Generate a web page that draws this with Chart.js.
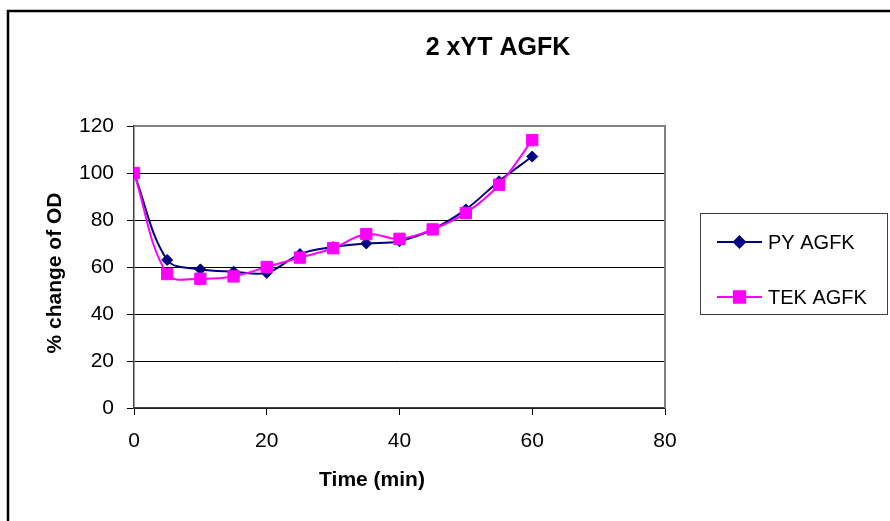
<!DOCTYPE html>
<html>
<head>
<meta charset="utf-8">
<script src="https://cdn.jsdelivr.net/npm/chart.js@4/dist/chart.umd.min.js"></script>
<style>
  html, body { margin: 0; padding: 0; background: #ffffff; }
  #wrap { width: 890px; height: 521px; }
</style>
</head>
<body>
<div id="wrap"><canvas id="c" width="890" height="521"></canvas></div>
<script>
const chartTitle = "2 xYT AGFK";
const xTitle = "Time (min)";
const yTitle = "% change of OD";
const timeMin = [0, 5, 10, 15, 20, 25, 30, 35, 40, 45, 50, 55, 60];
const pyLabel = "PY AGFK";
const pyValues = [100, 63, 59, 58, 57.5, 65.5, 68.5, 70, 71, 76, 84.5, 96.5, 107];
const tekLabel = "TEK AGFK";
const tekValues = [100, 57, 55, 56, 60, 64, 68, 74, 72, 76, 83, 95, 114];
const xTicks = [0, 20, 40, 60, 80];
const yTicks = [0, 20, 40, 60, 80, 100, 120];

const FONT = "'Liberation Sans', Arial, Helvetica, sans-serif";
const PY_COLOR = "#000080";
const TEK_COLOR = "#FF00FF";

function toPoints(xs, ys) { return xs.map((x, i) => ({ x: x, y: ys[i] })); }

const decorPlugin = {
  id: 'decor',
  beforeDatasetsDraw(chart) {
    const ctx = chart.ctx, a = chart.chartArea;
    ctx.save();
    ctx.strokeStyle = '#808080';
    ctx.lineWidth = 2;
    ctx.beginPath();
    ctx.moveTo(a.left, a.top);
    ctx.lineTo(a.right, a.top);
    ctx.lineTo(a.right, a.bottom);
    ctx.stroke();
    ctx.restore();
  },
  afterDraw(chart) {
    const ctx = chart.ctx;
    ctx.save();
    ctx.strokeStyle = '#000000';
    ctx.lineWidth = 2.5;
    ctx.beginPath();
    ctx.moveTo(8, 521);
    ctx.lineTo(8, 11);
    ctx.lineTo(890, 11);
    ctx.stroke();

    ctx.fillStyle = '#000000';
    ctx.textAlign = 'center';
    ctx.textBaseline = 'middle';
    ctx.font = "bold 25px " + FONT;
    ctx.fillText(chartTitle, 498, 48);

    ctx.font = "bold 21px " + FONT;
    ctx.fillText(xTitle, 372, 480);
    ctx.save();
    ctx.translate(55, 273);
    ctx.rotate(-Math.PI / 2);
    ctx.fillText(yTitle, 0, 0);
    ctx.restore();

    ctx.strokeStyle = '#404040';
    ctx.lineWidth = 1;
    ctx.strokeRect(700.5, 213.5, 187, 101);
    const items = [
      { label: pyLabel, color: PY_COLOR, style: 'rectRot', r: 5.5, y: 242 },
      { label: tekLabel, color: TEK_COLOR, style: 'rect', r: 8, y: 297 }
    ];
    items.forEach(it => {
      ctx.strokeStyle = it.color;
      ctx.lineWidth = 2;
      ctx.beginPath();
      ctx.moveTo(717, it.y);
      ctx.lineTo(762, it.y);
      ctx.stroke();
      ctx.fillStyle = it.color;
      Chart.helpers.drawPoint(ctx, { pointStyle: it.style, radius: it.r, borderWidth: 1, rotation: 0 }, 739.5, it.y);
      ctx.fill();
      ctx.fillStyle = '#000000';
      ctx.textAlign = 'left';
      ctx.textBaseline = 'middle';
      ctx.font = "20px " + FONT;
      ctx.fillText(it.label, 768, it.y + 1);
    });
    ctx.restore();
  }
};

new Chart(document.getElementById('c'), {
  type: 'line',
  data: {
    datasets: [
      {
        label: pyLabel,
        data: toPoints(timeMin, pyValues),
        borderColor: PY_COLOR,
        backgroundColor: PY_COLOR,
        borderWidth: 2,
        pointStyle: 'rectRot',
        pointRadius: 5.5,
        pointBorderWidth: 1,
        tension: 0.35,
        order: 1
      },
      {
        label: tekLabel,
        data: toPoints(timeMin, tekValues),
        borderColor: TEK_COLOR,
        backgroundColor: TEK_COLOR,
        borderWidth: 2,
        pointStyle: 'rect',
        pointRadius: 8,
        pointBorderWidth: 1,
        tension: 0.38,
        order: 0
      }
    ]
  },
  options: {
    responsive: false,
    animation: false,
    events: [],
    layout: { padding: { left: 0, top: 126, right: 225, bottom: 0 } },
    plugins: {
      legend: { display: false },
      title: { display: false },
      tooltip: { enabled: false }
    },
    scales: {
      x: {
        type: 'linear',
        min: 0, max: 80,
        afterFit(scale) { scale.height = 113; },
        afterBuildTicks(scale) { scale.ticks = xTicks.map(v => ({ value: v })); },
        grid: { drawOnChartArea: false, drawTicks: true, tickLength: 7, color: '#000000', lineWidth: 1 },
        border: { display: true, color: '#404040', width: 1.5 },
        ticks: { color: '#000000', font: { family: FONT, size: 21 }, padding: 14, maxRotation: 0 }
      },
      y: {
        type: 'linear',
        min: 0, max: 120,
        afterFit(scale) { scale.width = 134; },
        afterBuildTicks(scale) { scale.ticks = yTicks.map(v => ({ value: v })); },
        grid: { drawOnChartArea: true, drawTicks: true, tickLength: 7, color: '#000000', lineWidth: 1 },
        border: { display: true, color: '#404040', width: 1.5 },
        ticks: { color: '#000000', font: { family: FONT, size: 21 }, padding: 13 }
      }
    }
  },
  plugins: [decorPlugin]
});
</script>
</body>
</html>
